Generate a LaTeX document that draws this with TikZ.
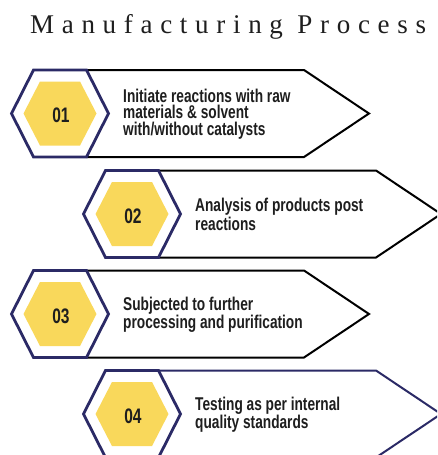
\documentclass[tikz,border=0pt]{standalone}
\usepackage{fontspec}
\setmainfont{Liberation Serif}
\newfontfamily\condfont[FakeStretch=0.74]{Liberation Sans}
\newfontfamily\titlefont[LetterSpace=28.5]{Liberation Serif}
\definecolor{navy}{HTML}{2B2A66}
\definecolor{hexyellow}{HTML}{F9D85B}
\definecolor{inkdark}{HTML}{1E1E1E}
\newcommand\makestep[5]{%
  \begin{scope}[shift={(#2,#3)}]
    \draw[arrowbox,draw=#4] (26.5,-43.5) -- (244,-43.5) -- (309,0) -- (244,43.5) -- (26.5,43.5);
    \draw[hexout] (-48.5,0) -- (-26.5,-43.5) -- (26.5,-43.5) -- (48.5,0) -- (26.5,43.5) -- (-26.5,43.5) -- cycle;
    \fill[hexin] (-36.5,0) -- (-20,-32) -- (20,-32) -- (36.5,0) -- (20,32) -- (-20,32) -- cycle;
    \node[numtext] (n#1) at (1,2) {0#1};
    \node[steptext] (t#1) at (63,0.5) {#5};
  \end{scope}}
\begin{document}
\begin{tikzpicture}[x=1pt,y=-1pt,
  hexout/.style={draw=navy,line width=2.8pt,fill=white,line join=miter},
  hexin/.style={fill=hexyellow},
  arrowbox/.style={line width=2pt,fill=white,line join=miter},
  numtext/.style={font=\condfont\bfseries\fontsize{21}{21}\selectfont,text=inkdark,inner sep=0pt},
  steptext/.style={font=\condfont\bfseries\fontsize{18.5}{16.5}\selectfont,text=inkdark,align=left,anchor=west,inner sep=0pt},
  titletext/.style={font=\titlefont\fontsize{27}{30}\selectfont,text=inkdark,anchor=base west,inner sep=0pt}]
\useasboundingbox (0,0) rectangle (437,455);
\clip (0,0) rectangle (437,455);
\node[titletext] (title) at (30,33) {Manufacturing Process};
\makestep{1}{60}{113.5}{black}{Initiate reactions with raw\\materials \& solvent\\with/without catalysts}
\makestep{2}{132}{214}{black}{Analysis of products post\\reactions}
\makestep{3}{60}{314}{black}{Subjected to further\\processing and purification}
\makestep{4}{132}{414}{navy}{Testing as per internal\\quality standards}
\end{tikzpicture}
\end{document}
